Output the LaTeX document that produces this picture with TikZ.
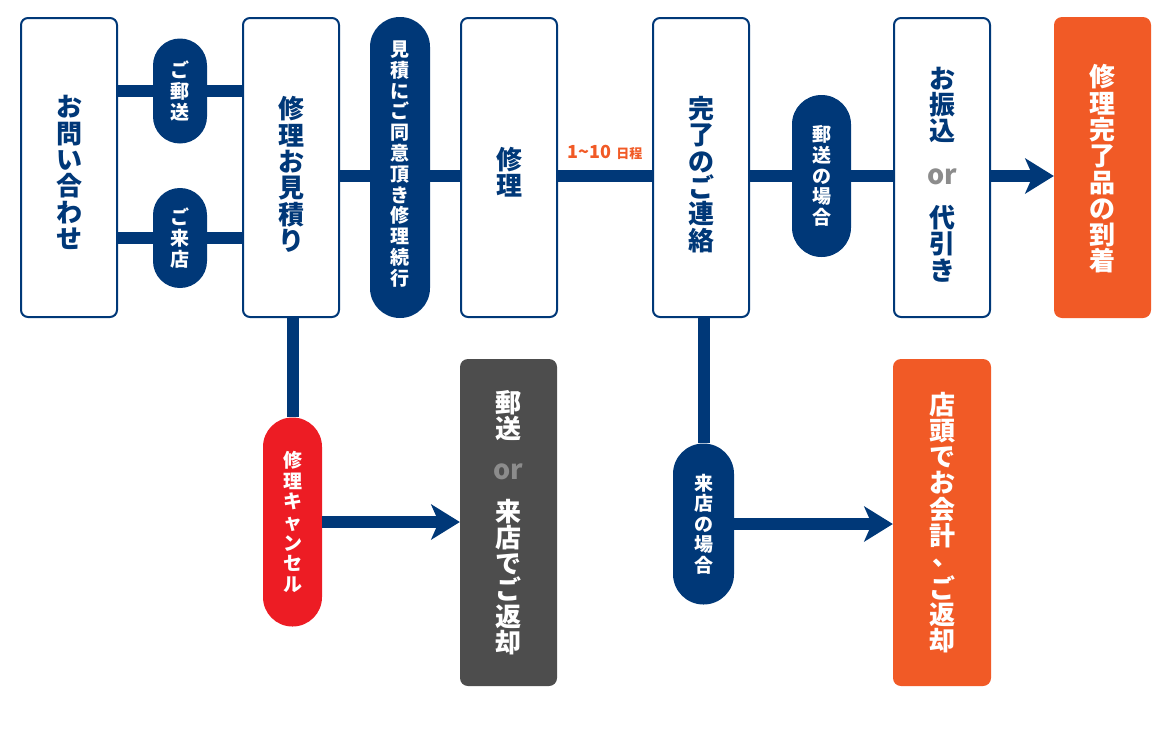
\documentclass[tikz,border=0pt]{standalone}
\usepackage{fontspec}
\setmainfont{Noto Sans CJK JP}
\usetikzlibrary{arrows.meta}
\definecolor{navy}{RGB}{0,56,120}
\definecolor{orng}{RGB}{241,90,38}
\definecolor{redc}{RGB}{237,28,36}
\definecolor{darkg}{RGB}{77,77,77}
\definecolor{orgray}{RGB}{140,140,140}
\newcommand\bigtxt{\fontsize{26}{26.3}\selectfont\bfseries}
\newcommand\smtxt{\fontsize{19}{20.6}\selectfont\bfseries}
\newcommand\ortxt[1]{{\fontsize{27}{27}\selectfont\bfseries\color{#1}or}}
\newcommand\vcomma{\makebox[1em][l]{\hspace{0.15em}\smash{\raisebox{0.25em}{、}}}}
\pgfdeclarelayer{bg}
\pgfsetlayers{bg,main}
\begin{document}
\begin{tikzpicture}[x=1pt,y=-1pt,
  box/.style={draw=navy, line width=2pt, fill=white, rounded corners=7pt,
    minimum width=96pt, minimum height=299pt, inner sep=0pt},
  boxtext/.style={inner sep=0pt, align=center, text=navy, font=\bigtxt},
  solid box/.style={fill=#1, rounded corners=8pt, minimum width=97pt,
    inner sep=0pt, align=center, text=white, font=\bigtxt},
  pill/.style={fill=#1, rounded corners=26.9pt, minimum width=54pt,
    inner sep=0pt, align=center, text=white, font=\smtxt},
  pilltext/.style={inner sep=0pt, align=center, text=white, font=\smtxt},
  conn/.style={draw=navy, line width=12pt},
  arr/.style={conn, -{Stealth[length=29pt, width=36pt, inset=8pt, line width=0pt]}}
]
\useasboundingbox (0,0) rectangle (1169,731);
% main boxes
\node[box] (b1) at (69,167.5) {};
\node[box] (b2) at (291,167.5) {};
\node[box] (b3) at (509,167.5) {};
\node[box] (b4) at (701,167.5) {};
\node[box] (b5) at (942,167.5) {};
\node[boxtext] (t1) at ([shift={(0,5)}]b1.center) {お\\問\\い\\合\\わ\\せ};
\node[boxtext] (t2) at ([shift={(0,7)}]b2.center) {修\\理\\お\\見\\積\\り};
\node[boxtext] (t3) at ([shift={(0,5)}]b3.center) {修\\理};
\node[boxtext] (t4) at ([shift={(0,7)}]b4.center) {完\\了\\の\\ご\\連\\絡};
\node[boxtext] (t5) at ([shift={(0,7)}]b5.center) {お\\振\\込\\[17pt]\ortxt{orgray}\\[17pt]代\\引\\き};
\node[solid box=orng, minimum height=301pt] (o1) at (1102.5,167.5) {};
\node[boxtext, text=white] (t6) at ([shift={(0,1.5)}]o1.center) {修\\理\\完\\了\\品\\の\\到\\着};
\node[solid box=darkg, minimum height=327pt] (g1) at (508.5,522.5) {郵\\送\\[15pt]\ortxt{orgray}\\[15pt]来\\店\\で\\ご\\返\\却};
\node[solid box=orng, minimum width=98pt, minimum height=327pt] (o2) at (942,522.5) {店\\頭\\で\\お\\会\\計\\\vcomma\\ご\\返\\却};
% pills
\node[pill=navy, minimum height=105pt] (p1) at (180,91) {ご\\郵\\送};
\node[pill=navy, minimum height=100pt] (p2) at (180,238) {ご\\来\\店};
\node[pill=navy, minimum width=60pt, minimum height=301pt, rounded corners=29.9pt] (p3) at (400,167.5) {};
\node[pilltext, font=\fontsize{19}{20.8}\selectfont\bfseries] (t7) at ([shift={(0,-3.5)}]p3.center) {見\\積\\に\\ご\\同\\意\\頂\\き\\修\\理\\続\\行};
\node[pill=navy, minimum width=59pt, minimum height=162pt, rounded corners=29.4pt] (p4) at (821.5,176) {郵\\送\\の\\場\\合};
\node[pill=redc, minimum width=59pt, minimum height=209pt, rounded corners=29.4pt] (p5) at (292.5,522) {修\\理\\キ\\ャ\\ン\\セ\\ル};
\node[pill=navy, minimum width=61pt, minimum height=161pt, rounded corners=30.4pt] (p6) at (703.5,524) {来\\店\\の\\場\\合};
% label
\coordinate (row) at (0,176);
\node[text=orng, font=\bfseries, inner sep=0pt] (lbl) at (605,152)
  {{\fontsize{18}{18}\selectfont 1\textasciitilde 10}\hspace{5pt}{\fontsize{13}{13}\selectfont 日程}};
% connectors
\begin{pgfonlayer}{bg}
\draw[conn] (b1.east |- p1) -- (b2.west |- p1);
\draw[conn] (b1.east |- p2) -- (b2.west |- p2);
\draw[conn] (b2.east |- row) -- (b3.west |- row);
\draw[conn] (b3.east |- row) -- (b4.west |- row);
\draw[conn] (b4.east |- row) -- (b5.west |- row);
\draw[conn] (p5.north |- b2.south) -- (p5.north);
\draw[conn] (p6.north |- b4.south) -- (p6.north);
\end{pgfonlayer}
\draw[arr] (b5.east |- row) -- (o1.west |- row);
\draw[arr] (p5.east) -- (g1.west |- p5.east);
\draw[arr] (p6.east) -- (o2.west |- p6.east);
\end{tikzpicture}
\end{document}
